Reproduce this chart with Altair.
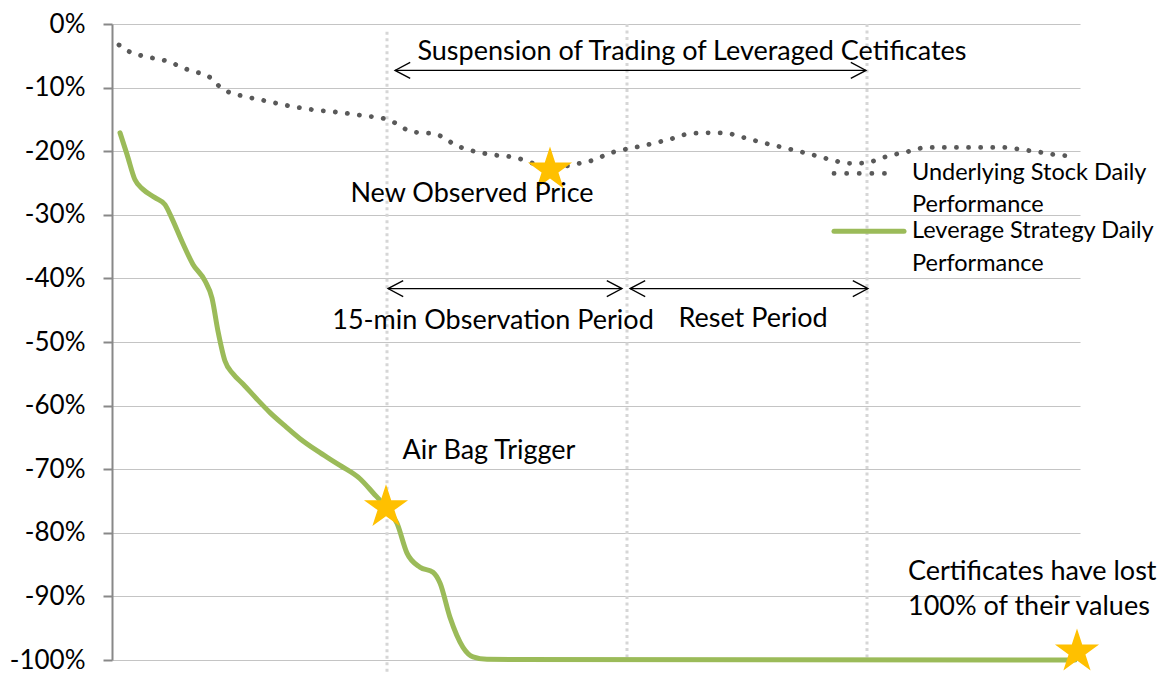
import altair as alt
import pandas as pd

# ---- data (x: time units across the panel, y: performance in %) ----
stock_t = [0.7, 1.8, 3.0, 5.4, 7.6, 9.9, 10.8, 11.8, 13.0, 15.4, 17.8, 20.2, 22.7, 25.1, 27.5,
           28.6, 29.7, 30.9, 32.1, 33.3, 34.3, 35.5, 37.8, 40.3, 42.5, 43.8, 46.1, 48.5, 49.6, 50.8,
           53.2, 55.6, 58.0, 60.4, 61.6, 62.8, 65.2, 67.6, 69.9, 72.3, 73.5, 74.7, 76.0, 77.1, 78.3,
           79.5, 80.6, 81.9, 86.7, 89.1, 90.3, 91.7, 93.0, 94.1, 95.3]
stock_pct = [-3.3, -4.4, -5.0, -5.8, -7.2, -8.5, -9.9, -10.8, -11.3, -12.1, -12.9, -13.5, -13.9, -14.4, -15.0,
             -15.8, -16.8, -17.1, -17.2, -18.0, -19.0, -19.7, -20.5, -21.0, -22.1, -22.7, -22.1, -21.2, -20.4, -19.9,
             -19.1, -18.2, -17.2, -17.1, -17.2, -17.7, -18.7, -19.6, -20.5, -21.5, -21.9, -21.9, -21.6, -21.0, -20.5,
             -20.1, -19.6, -19.4, -19.4, -19.4, -19.6, -19.9, -20.2, -20.5, -20.7]

lev_t = [0.8, 1.5, 2.3, 3.1, 4.3, 5.3, 6.0, 7.0, 8.1, 9.3, 10.0, 10.6, 11.3, 12.1, 13.1, 14.5, 15.8,
         17.3, 18.8, 20.8, 22.8, 24.8, 26.1, 27.4, 28.5, 29.5, 30.8, 32.1, 32.8, 33.8, 35.1, 36.1, 37.5, 96.3]
lev_pct = [-17.1, -20.5, -24.5, -26.0, -27.3, -28.4, -30.6, -34.2, -37.8, -40.4, -43.1, -48.3, -53.0, -55.0,
           -56.6, -59.0, -61.1, -63.2, -65.2, -67.4, -69.4, -71.5, -73.7, -76.0, -78.5, -83.2, -85.4, -86.2,
           -87.9, -93.3, -98.0, -99.5, -99.9, -100.0]

vline_t = [27.5, 51.5, 75.5]
vline_top = [-1.2, 0.0, 0.0]
vline_bottom = [-102.0, -100.0, -100.0]

arrow_left_t = [28.3, 27.6, 51.8]
arrow_right_t = [75.4, 51.0, 75.6]
arrow_pct = [-7.3, -41.6, -41.6]

star_t = [27.4, 43.8, 96.5]
star_pct = [-76.0, -22.9, -98.7]

center_labels = ["Suspension of Trading of Leveraged Cetificates", "New Observed Price",
                 "15-min Observation Period", "Reset Period", "Air Bag Trigger"]
center_t = [58.0, 36.0, 38.1, 64.1, 37.7]
center_pct = [-4.4, -26.8, -46.7, -46.4, -67.2]

left_labels = ["Certificates have lost", "100% of their values"]
left_t = [79.6, 79.6]
left_pct = [-86.2, -91.7]

legend_names = ["Underlying Stock Daily", "Performance", "Leverage Strategy Daily", "Performance"]
legend_text_t = [80.0, 80.0, 80.0, 80.0]
legend_text_pct = [-23.5, -28.5, -32.6, -37.7]
legend_sym_t1 = [72.2, 72.2]
legend_sym_t2 = [78.5, 79.2]
legend_sym_pct = [-23.5, -32.6]

y_ticks = list(range(-100, 1, 10))

# ---- tables ----
stock_df = pd.DataFrame({"t": stock_t, "pct": stock_pct})
lev_df = pd.DataFrame({"t": lev_t, "pct": lev_pct})
vline_df = pd.DataFrame({"t": vline_t, "pct": vline_top, "pct2": vline_bottom})
arrow_df = pd.DataFrame({"t": arrow_left_t, "t2": arrow_right_t, "pct": arrow_pct})
star_df = pd.DataFrame({"t": star_t, "pct": star_pct})
center_df = pd.DataFrame({"t": center_t, "pct": center_pct, "label": center_labels})
left_df = pd.DataFrame({"t": left_t, "pct": left_pct, "label": left_labels})
leg_txt_df = pd.DataFrame({"t": legend_text_t, "pct": legend_text_pct, "label": legend_names})
leg_stock_df = pd.DataFrame({"t": legend_sym_t1[:1], "t2": legend_sym_t2[:1], "pct": legend_sym_pct[:1]})
leg_lev_df = pd.DataFrame({"t": legend_sym_t1[1:], "t2": legend_sym_t2[1:], "pct": legend_sym_pct[1:]})

X_SCALE = alt.Scale(domain=[0, 96.8], nice=False, zero=False)
Y_SCALE = alt.Scale(domain=[-100, 0], nice=False, zero=False)
Y_AXIS = alt.Axis(values=y_ticks, labelExpr="datum.value + '%'", title=None, grid=True,
                  gridColor="#C4C4C4", gridWidth=1.2, domainColor="#888888", domainWidth=2,
                  tickColor="#888888", tickWidth=2, tickSize=9, labelFont="Lato",
                  labelFontSize=26, labelColor="black", labelPadding=18)


def X(field="t"):
    return alt.X(f"{field}:Q", scale=X_SCALE, axis=None)


def Y(field="pct"):
    return alt.Y(f"{field}:Q", scale=Y_SCALE, axis=Y_AXIS)


STAR = "M0,-1L0.2245,-0.309L0.951,-0.309L0.363,0.118L0.588,0.809L0,0.382L-0.588,0.809L-0.363,0.118L-0.951,-0.309L-0.2245,-0.309Z"
LEFT_HEAD = "M1.9,-1L0,0L1.9,1"
RIGHT_HEAD = "M-1.9,-1L0,0L-1.9,1"

vlines = alt.Chart(vline_df).mark_rule(color="#D6D6D6", strokeWidth=3, strokeDash=[3, 3.5]).encode(
    x=X(), y=Y(), y2="pct2:Q")

stock = alt.Chart(stock_df).mark_line(color="#595959", strokeWidth=4.8, strokeDash=[0.1, 12],
                                      strokeCap="round", interpolate="monotone").encode(x=X(), y=Y())

lev = alt.Chart(lev_df).mark_line(color="#9BBB59", strokeWidth=5, interpolate="monotone",
                                  strokeCap="round").encode(x=X(), y=Y())

shafts = alt.Chart(arrow_df).mark_rule(color="black", strokeWidth=1.3).encode(x=X(), x2="t2:Q", y=Y())
heads_l = alt.Chart(arrow_df).mark_point(shape=LEFT_HEAD, filled=False, size=256, color="black",
                                         strokeWidth=1.3, opacity=1).encode(x=X(), y=Y())
heads_r = alt.Chart(arrow_df).mark_point(shape=RIGHT_HEAD, filled=False, size=256, color="black",
                                         strokeWidth=1.3, opacity=1).encode(x=X("t2"), y=Y())

stars = alt.Chart(star_df).mark_point(shape=STAR, filled=True, color="#FFC000", size=2150,
                                      opacity=1, strokeWidth=0).encode(x=X(), y=Y())

center_txt = alt.Chart(center_df).mark_text(font="Lato", fontSize=27, align="center", baseline="middle",
                                            color="black").encode(x=X(), y=Y(), text="label:N")
left_txt = alt.Chart(left_df).mark_text(font="Lato", fontSize=27, align="left", baseline="middle",
                                        color="black").encode(x=X(), y=Y(), text="label:N")

leg_stock = alt.Chart(leg_stock_df).mark_rule(color="#595959", strokeWidth=4.8, strokeDash=[0.1, 12.5],
                                              strokeCap="round").encode(x=X(), x2="t2:Q", y=Y())
leg_lev = alt.Chart(leg_lev_df).mark_rule(color="#9BBB59", strokeWidth=5, strokeCap="round").encode(
    x=X(), x2="t2:Q", y=Y())
leg_txt = alt.Chart(leg_txt_df).mark_text(font="Lato", fontSize=23.5, align="left", baseline="middle",
                                          color="black").encode(x=X(), y=Y(), text="label:N")

chart = alt.layer(
    vlines, stock, lev, shafts, heads_l, heads_r, stars, center_txt, left_txt, leg_stock, leg_lev, leg_txt
).properties(
    width=968, height=636,
    autosize=alt.AutoSizeParams(type="none"),
    padding={"left": 104, "top": 16, "right": 83, "bottom": 14},
    background="white",
).configure_view(stroke=None)

chart.save("out.html", embed_options={"renderer": "svg", "actions": False})
